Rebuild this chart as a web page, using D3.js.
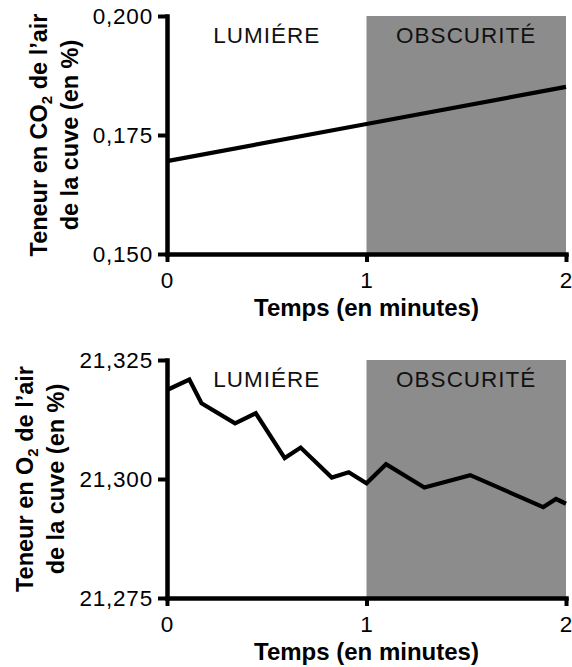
<!DOCTYPE html>
<html>
<head>
<meta charset="utf-8">
<script src="https://cdn.jsdelivr.net/npm/d3@7"></script>
<style>
  body { margin: 0; background: #fff; }
  svg { display: block; font-family: "Liberation Sans", Arial, sans-serif; }
  .tick text { font-size: 22.5px; letter-spacing: 0.8px; fill: #000; }
  .axis-title { font-size: 23.5px; font-weight: bold; fill: #000; }
  .x-title { font-size: 24px; }
  .phase-label { font-size: 22.5px; letter-spacing: 1px; fill: #111; }
</style>
</head>
<body>
<div id="chart"></div>
<script>
// Time axis shared by both panels (minutes)
const timeTicks = [0, 1, 2];
const phaseBounds = [0, 1, 2];
const phaseLabels = ['LUMIÉRE', 'OBSCURITÉ'];

// CO2 panel
const co2Ticks = [0.150, 0.175, 0.200];
const co2Time = [0, 1, 2];
const co2Values = [0.1695, 0.1773, 0.1851];

// O2 panel
const o2Ticks = [21.275, 21.300, 21.325];
const o2Time = [0, 0.112, 0.173, 0.341, 0.445, 0.59, 0.67, 0.826, 0.911, 1.0, 1.098, 1.29, 1.52, 1.886, 1.95, 2.0];
const o2Values = [21.3187, 21.3209, 21.3159, 21.3117, 21.3138, 21.3044, 21.3066, 21.3003, 21.3014, 21.2991,
                  21.3031, 21.2982, 21.3008, 21.2941, 21.2958, 21.2948];

const fmt = d => d3.format('.3f')(d).replace('.', ',');

const svg = d3.select('#chart').append('svg')
    .attr('width', 572)
    .attr('height', 667);

function drawPanel(cfg) {
  const x = d3.scaleLinear().domain([timeTicks[0], timeTicks[timeTicks.length - 1]]).range([cfg.left, cfg.right]);
  const y = d3.scaleLinear().domain([cfg.ticks[0], cfg.ticks[cfg.ticks.length - 1]]).range([cfg.bottom, cfg.top]);

  const g = svg.append('g');

  // Dark phase background
  g.append('rect')
      .attr('x', x(phaseBounds[1]))
      .attr('y', y(cfg.ticks[cfg.ticks.length - 1]))
      .attr('width', x(phaseBounds[2]) - x(phaseBounds[1]))
      .attr('height', y(cfg.ticks[0]) - y(cfg.ticks[cfg.ticks.length - 1]))
      .attr('fill', '#8c8c8c');

  // Phase labels
  g.selectAll('.phase-label')
    .data(phaseLabels)
    .join('text')
      .attr('class', 'phase-label')
      .attr('x', (d, i) => (x(phaseBounds[i]) + x(phaseBounds[i + 1])) / 2)
      .attr('y', y(cfg.ticks[cfg.ticks.length - 1]) + 27)
      .attr('text-anchor', 'middle')
      .text(d => d);

  // Series line
  const pts = cfg.times.map((t, i) => [t, cfg.values[i]]);
  g.append('path')
      .datum(pts)
      .attr('fill', 'none')
      .attr('stroke', '#000')
      .attr('stroke-width', 4.2)
      .attr('stroke-linejoin', 'miter')
      .attr('d', d3.line().x(d => x(d[0])).y(d => y(d[1])));

  // Axes
  const xAxis = d3.axisBottom(x).tickValues(timeTicks).tickSize(8).tickSizeOuter(0).tickPadding(10)
      .tickFormat(d3.format('d'));
  const yAxis = d3.axisLeft(y).tickValues(cfg.ticks).tickSize(9).tickSizeOuter(0).tickPadding(5)
      .tickFormat(fmt);

  const xg = g.append('g')
      .attr('transform', `translate(0,${cfg.bottom})`)
      .call(xAxis);
  const yg = g.append('g')
      .attr('transform', `translate(${cfg.left},0)`)
      .call(yAxis);

  [xg, yg].forEach(a => {
    a.attr('font-size', null).attr('font-family', null);
    a.select('.domain').attr('stroke-width', 4.5).attr('stroke-linecap', 'square');
    a.selectAll('.tick line').attr('stroke-width', 4);
  });

  // X axis title
  g.append('text')
      .attr('class', 'axis-title x-title')
      .attr('x', (cfg.left + cfg.right) / 2)
      .attr('y', cfg.bottom + 62)
      .attr('text-anchor', 'middle')
      .text('Temps (en minutes)');

  // Y axis title, two lines with subscript
  const yc = (cfg.top + cfg.bottom) / 2;
  const t1 = g.append('text')
      .attr('class', 'axis-title')
      .attr('text-anchor', 'middle')
      .attr('transform', `translate(${cfg.titleX[0]},${yc}) rotate(-90)`);
  t1.append('tspan').text(cfg.titleStart);
  t1.append('tspan').attr('font-size', 15).attr('dy', 5).text('2');
  t1.append('tspan').attr('dy', -5).text(' de l’air');

  g.append('text')
      .attr('class', 'axis-title')
      .attr('text-anchor', 'middle')
      .attr('transform', `translate(${cfg.titleX[1]},${yc}) rotate(-90)`)
      .text('de la cuve (en %)');
}

drawPanel({
  left: 167, right: 566, top: 16, bottom: 254,
  ticks: co2Ticks, times: co2Time, values: co2Values,
  titleStart: 'Teneur en CO', titleX: [47, 78]
});

drawPanel({
  left: 167, right: 566, top: 360, bottom: 598,
  ticks: o2Ticks, times: o2Time, values: o2Values,
  titleStart: 'Teneur en O', titleX: [33, 64]
});
</script>
</body>
</html>
